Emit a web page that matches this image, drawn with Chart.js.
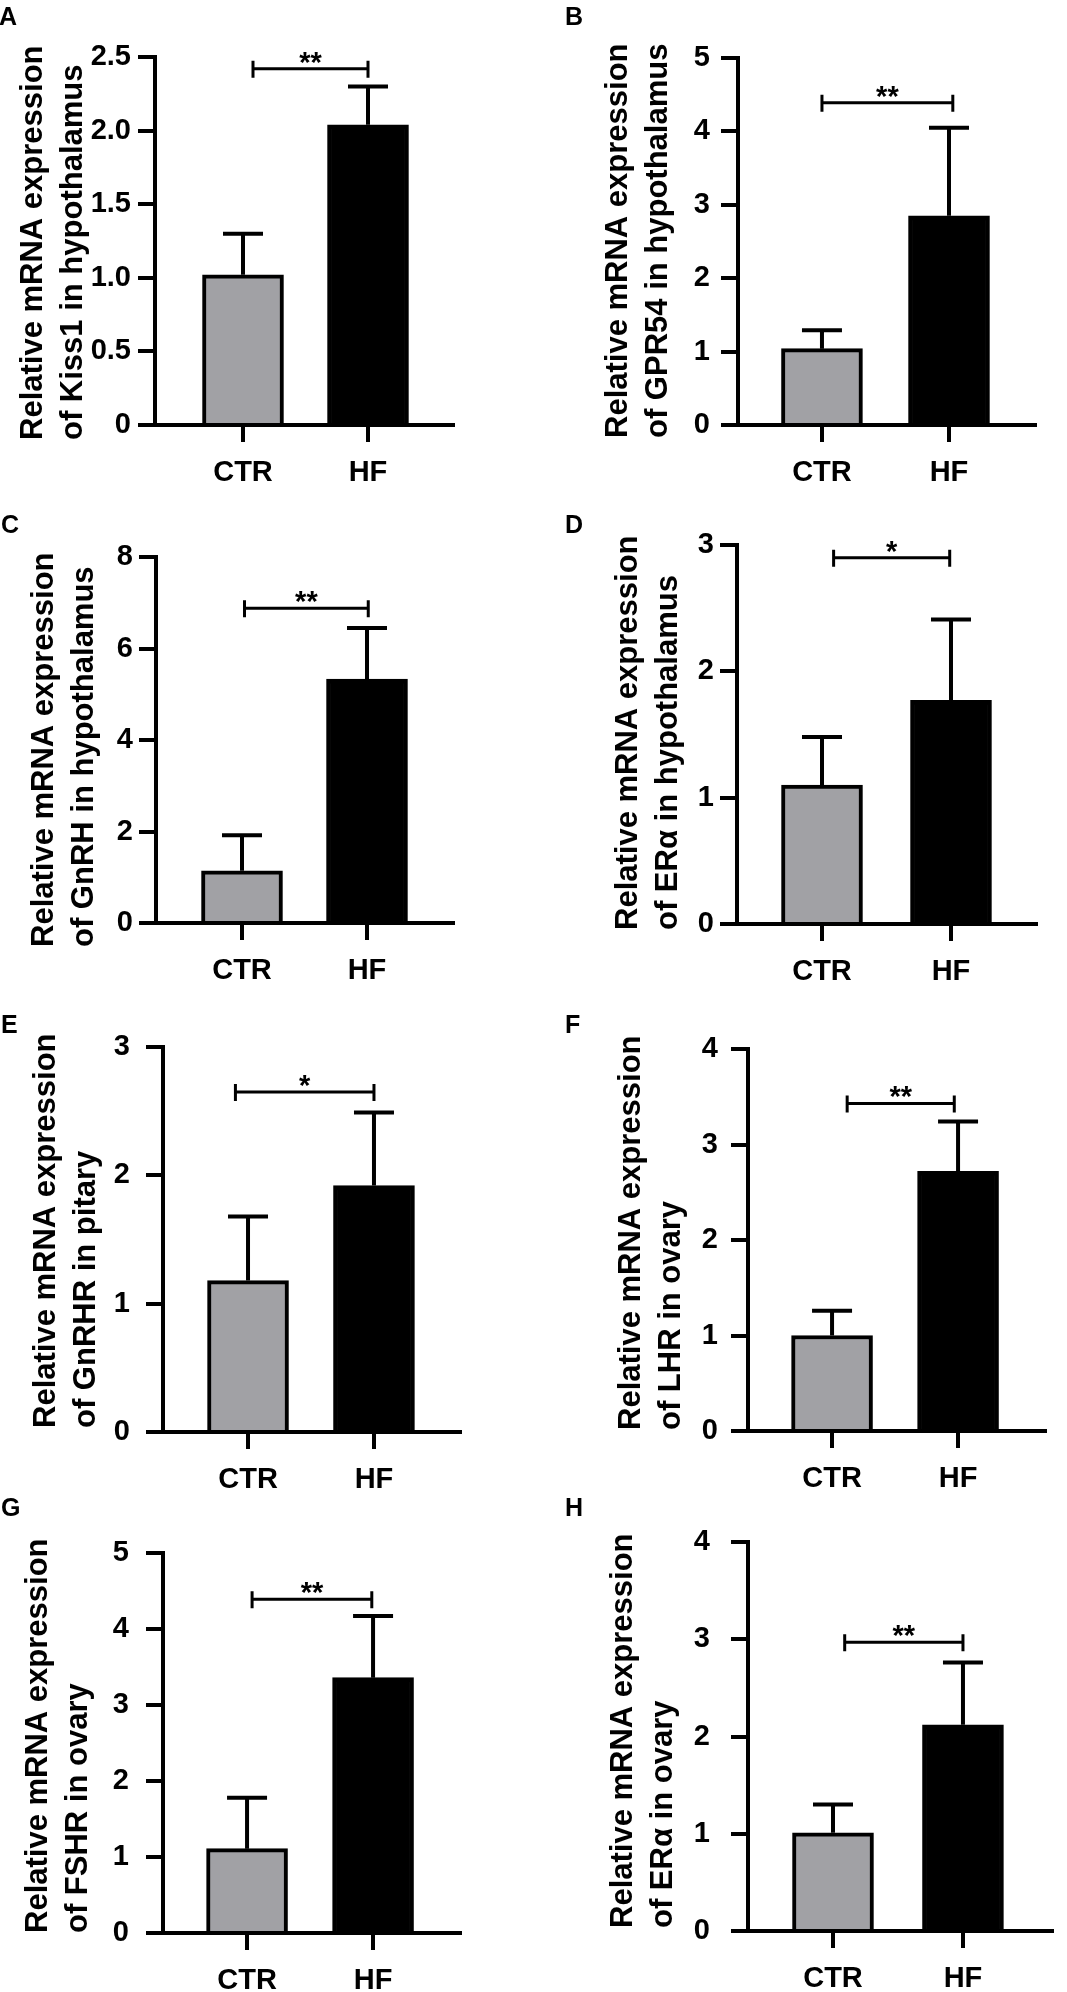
<!DOCTYPE html>
<html>
<head>
<meta charset="utf-8">
<script src="https://cdn.jsdelivr.net/npm/chart.js@4.4.0/dist/chart.umd.min.js"></script>
<style>
  html, body { margin: 0; padding: 0; background: #fff; }
  body { position: relative; width: 1067px; height: 1992px; overflow: hidden; }
  canvas { position: absolute; }
  .letter { position: absolute; font: bold 25px "Liberation Sans", Arial, sans-serif; line-height: 1; color: #000; }
</style>
</head>
<body>
<script>
'use strict';

// ---- data ----
const categories = ['CTR', 'HF'];
const panelLetters = ['A', 'B', 'C', 'D', 'E', 'F', 'G', 'H'];
const titleLines = [
    ['Relative mRNA expression', 'of Kiss1 in hypothalamus'],
    ['Relative mRNA expression', 'of GPR54 in hypothalamus'],
    ['Relative mRNA expression', 'of GnRH in hypothalamus'],
    ['Relative mRNA expression', 'of ERα in hypothalamus'],
    ['Relative mRNA expression', 'of GnRHR in pitary'],
    ['Relative mRNA expression', 'of LHR in ovary'],
    ['Relative mRNA expression', 'of FSHR in ovary'],
    ['Relative mRNA expression', 'of ERα in ovary']
];
const ctrMean = [1.02, 1.04, 1.14, 1.10, 1.18, 1.00, 1.11, 1.01];
const ctrSd   = [0.28, 0.25, 0.78, 0.38, 0.50, 0.26, 0.67, 0.29];
const hfMean  = [2.04, 2.85, 5.33, 1.77, 1.92, 2.72, 3.36, 2.12];
const hfSd    = [0.26, 1.20, 1.12, 0.64, 0.57, 0.52, 0.81, 0.64];
const yMax    = [2.5, 5, 8, 3, 3, 4, 5, 4];
const yStep   = [0.5, 1, 2, 1, 1, 1, 1, 1];
const sigLabels = ['**', '**', '**', '*', '*', '**', '**', '**'];
const sigLevel  = [2.42, 4.39, 6.88, 2.90, 2.65, 3.43, 4.39, 2.97];
const sigFrom   = [0.08, 0.0, 0.02, 0.09, -0.1, 0.12, 0.04, 0.09];
const sigTo     = [1.0, 1.03, 1.01, 0.99, 1.0, 0.97, 0.99, 1.0];

// ---- page layout (pixels), one entry per panel ----
const panelLayout = [
    { left: 0,   top: 0,    axisX: 155, areaTop: 57,   zero: 425,  right: 453,  xMin: -0.704, xMax: 1.68,  tickPad: 7,  titleOff: 113, titleShift: 15, letterX: 0,   letterY: 7 },
    { left: 533, top: 0,    axisX: 738, areaTop: 58,   zero: 425,  right: 1035, xMin: -0.661, xMax: 1.677, tickPad: 11, titleOff: 111, titleShift: 13, letterX: 566, letterY: 7 },
    { left: 0,   top: 490,  axisX: 156, areaTop: 557,  zero: 923,  right: 453,  xMin: -0.688, xMax: 1.688, tickPad: 6,  titleOff: 103, titleShift: 24, letterX: 2,   letterY: 515 },
    { left: 533, top: 490,  axisX: 737, areaTop: 545,  zero: 924,  right: 1036, xMin: -0.659, xMax: 1.659, tickPad: 6,  titleOff: 100, titleShift: 6,  letterX: 566, letterY: 515 },
    { left: 0,   top: 990,  axisX: 163, areaTop: 1047, zero: 1432, right: 460,  xMin: -0.675, xMax: 1.683, tickPad: 16, titleOff: 108, titleShift: -4, letterX: 2,   letterY: 1015 },
    { left: 533, top: 990,  axisX: 748, areaTop: 1049, zero: 1431, right: 1045, xMin: -0.667, xMax: 1.69,  tickPad: 13, titleOff: 108, titleShift: -1, letterX: 566, letterY: 1015 },
    { left: 0,   top: 1490, axisX: 163, areaTop: 1553, zero: 1933, right: 460,  xMin: -0.667, xMax: 1.69,  tickPad: 17, titleOff: 116, titleShift: 0,  letterX: 2,   letterY: 1498 },
    { left: 533, top: 1490, axisX: 748, areaTop: 1542, zero: 1931, right: 1052, xMin: -0.654, xMax: 1.685, tickPad: 21, titleOff: 116, titleShift: -3, letterX: 566, letterY: 1498 }
];

const fontFamily = "'Liberation Sans', Arial, sans-serif";
const ctrColor = '#a1a1a5';
const hfColor = '#000000';

// error bars (mean + SD) on top of each bar
const errorBars = {
    id: 'errorBars',
    afterDatasetsDraw(chart) {
        const ctx = chart.ctx;
        const y = chart.scales.y;
        const ds = chart.data.datasets[0];
        chart.getDatasetMeta(0).data.forEach((bar, i) => {
            const top = y.getPixelForValue(ds.data[i].y + ds.errors[i]);
            ctx.save();
            ctx.strokeStyle = '#000';
            ctx.lineWidth = 4;
            ctx.beginPath();
            ctx.moveTo(bar.x, bar.y);
            ctx.lineTo(bar.x, top);
            ctx.moveTo(bar.x - 20, top);
            ctx.lineTo(bar.x + 20, top);
            ctx.stroke();
            ctx.restore();
        });
    }
};

// significance bracket with stars
const sigBracket = {
    id: 'sigBracket',
    afterDraw(chart, args, opts) {
        const ctx = chart.ctx;
        const x1 = chart.scales.x.getPixelForValue(opts.from);
        const x2 = chart.scales.x.getPixelForValue(opts.to);
        const yy = chart.scales.y.getPixelForValue(opts.level);
        ctx.save();
        ctx.strokeStyle = '#000';
        ctx.lineWidth = 3;
        ctx.beginPath();
        ctx.moveTo(x1, yy);
        ctx.lineTo(x2, yy);
        ctx.moveTo(x1, yy - 8);
        ctx.lineTo(x1, yy + 9);
        ctx.moveTo(x2, yy - 8);
        ctx.lineTo(x2, yy + 9);
        ctx.stroke();
        ctx.fillStyle = '#000';
        ctx.font = 'bold 29px ' + fontFamily;
        ctx.textAlign = 'center';
        ctx.textBaseline = 'alphabetic';
        ctx.fillText(opts.label, (x1 + x2) / 2, yy + 3);
        ctx.restore();
    }
};

// two-line y axis title, left aligned from the bottom
const axisTitle = {
    id: 'axisTitle',
    afterDraw(chart, args, opts) {
        const ctx = chart.ctx;
        const y = chart.scales.y;
        ctx.save();
        ctx.fillStyle = '#000';
        ctx.font = 'bold 31px ' + fontFamily;
        ctx.textAlign = 'left';
        ctx.textBaseline = 'alphabetic';
        ctx.translate(y.right - opts.offset, y.bottom + opts.shift);
        ctx.rotate(-Math.PI / 2);
        opts.lines.forEach((t, k) => ctx.fillText(t, 0, k * 40));
        ctx.restore();
    }
};

function makePanel(p) {
    const L = panelLayout[p];
    const w = L.left === 0 ? 533 : 534;
    const h = p >= 6 ? 502 : 500;
    // x axis box runs to the bottom of the canvas so tick labels are not clipped
    const xAxisHeight = L.top + h - L.zero;

    const canvas = document.createElement('canvas');
    canvas.width = w;
    canvas.height = h;
    canvas.style.left = L.left + 'px';
    canvas.style.top = L.top + 'px';
    canvas.style.width = w + 'px';
    canvas.style.height = h + 'px';
    document.body.appendChild(canvas);

    const letter = document.createElement('div');
    letter.className = 'letter';
    letter.textContent = panelLetters[p];
    letter.style.left = (L.letterX - 1) + 'px';
    letter.style.top = (L.letterY - 3) + 'px';
    document.body.appendChild(letter);

    const tickFont = { family: fontFamily, size: 29, weight: 'bold' };
    const axisGrid = { display: true, drawOnChartArea: false, drawTicks: true, tickLength: 17, lineWidth: 4, color: '#000', offset: false };
    const axisBorder = { display: true, width: 4, color: '#000' };

    new Chart(canvas, {
        type: 'bar',
        data: {
            datasets: [{
                data: [{ x: 0, y: ctrMean[p] }, { x: 1, y: hfMean[p] }],
                errors: [ctrSd[p], hfSd[p]],
                backgroundColor: [ctrColor, hfColor],
                borderColor: '#000',
                borderWidth: 4,
                borderSkipped: 'start',
                barThickness: 81
            }]
        },
        options: {
            responsive: false,
            animation: false,
            layout: {
                padding: {
                    left: 0,
                    top: L.areaTop - L.top,
                    right: L.left + w - L.right,
                    bottom: 0
                }
            },
            scales: {
                x: {
                    type: 'linear',
                    min: L.xMin,
                    max: L.xMax,
                    offset: false,
                    z: 1,
                    afterFit(s) { s.height = xAxisHeight; },
                    ticks: {
                        stepSize: 1,
                        includeBounds: false,
                        autoSkip: false,
                        maxRotation: 0,
                        padding: 14,
                        color: '#000',
                        font: tickFont,
                        callback: v => categories[v] ?? ''
                    },
                    grid: axisGrid,
                    border: axisBorder
                },
                y: {
                    min: 0,
                    max: yMax[p],
                    z: 1,
                    afterFit(s) { s.width = L.axisX - L.left; },
                    ticks: {
                        stepSize: yStep[p],
                        padding: L.tickPad,
                        color: '#000',
                        font: tickFont,
                        callback: v => (yStep[p] < 1 && v !== 0) ? v.toFixed(1) : String(v)
                    },
                    grid: axisGrid,
                    border: axisBorder
                }
            },
            plugins: {
                legend: { display: false },
                tooltip: { enabled: false },
                sigBracket: { from: sigFrom[p], to: sigTo[p], level: sigLevel[p], label: sigLabels[p] },
                axisTitle: { lines: titleLines[p], offset: L.titleOff, shift: L.titleShift }
            }
        },
        plugins: [errorBars, sigBracket, axisTitle]
    });
}

for (let p = 0; p < panelLetters.length; p++) {
    makePanel(p);
}
</script>
</body>
</html>
